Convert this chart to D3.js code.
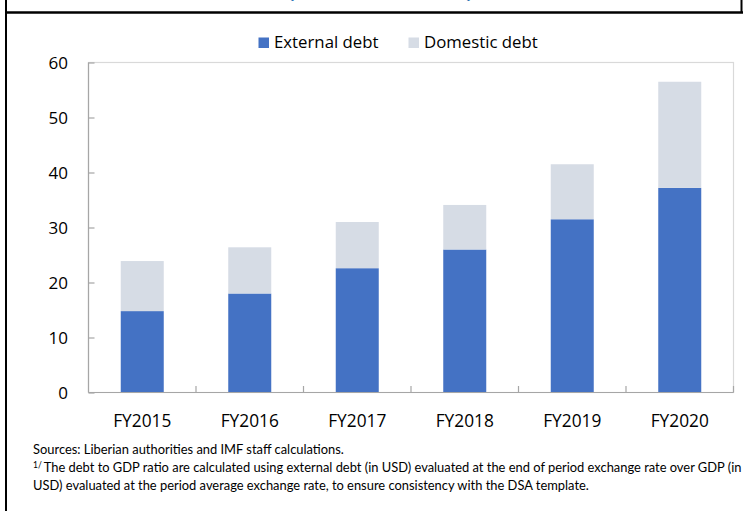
<!DOCTYPE html>
<html>
<head>
<meta charset="utf-8">
<script src="https://cdn.jsdelivr.net/npm/d3@7"></script>
<style>
  html, body { margin: 0; padding: 0; background: #fff; }
  svg { display: block; }
</style>
</head>
<body>
<svg id="chart" width="743" height="511"></svg>
<script>
// Liberia: public debt composition, percent of GDP
const years = ["FY2015", "FY2016", "FY2017", "FY2018", "FY2019", "FY2020"];
const externalDebt = [14.8, 18.0, 22.6, 26.0, 31.5, 37.2];
const domesticDebt = [9.1, 8.4, 8.4, 8.1, 10.0, 19.3];
const seriesNames = ["External debt", "Domestic debt"];
const seriesColors = ["#4472C4", "#D6DCE5"];
const yTicks = [0, 10, 20, 30, 40, 50, 60];
const titleText = "(Percent of GDP)";
const notes = [
  "Sources: Liberian authorities and IMF staff calculations.",
  "The debt to GDP ratio are calculated using external debt (in USD) evaluated at the end of period exchange rate over GDP (in",
  "USD) evaluated at the period average exchange  rate, to ensure consistency with the DSA template."
];

const svg = d3.select("#chart");
const W = 743, H = 511;
const plot = { left: 88.5, right: 733.5, top: 62.5, bottom: 392.5 };
const tickFont = "'Open Sans', 'Noto Sans', sans-serif";

// Panel frame
svg.append("line").attr("x1", 6).attr("x2", 6).attr("y1", 0).attr("y2", H)
  .attr("stroke", "#000").attr("stroke-width", 2);
svg.append("line").attr("x1", 5).attr("x2", W).attr("y1", 12.5).attr("y2", 12.5)
  .attr("stroke", "#000").attr("stroke-width", 2.5);
svg.append("line").attr("x1", 741.5).attr("x2", 741.5).attr("y1", 0).attr("y2", 13)
  .attr("stroke", "#000").attr("stroke-width", 2);

// Panel title, running off the top edge of the panel
svg.append("text")
  .attr("x", 380.5).attr("y", -1.8)
  .attr("text-anchor", "middle")
  .attr("textLength", 186).attr("lengthAdjust", "spacingAndGlyphs")
  .style("font-family", tickFont).style("font-size", "19px")
  .attr("fill", "#2E75B6")
  .text(titleText);

// Scales
const x = d3.scaleBand().domain(years).range([plot.left, plot.right]).paddingInner(0.6).paddingOuter(0.3);
const xBounds = d3.scaleBand().domain(years).range([plot.left, plot.right]);
const y = d3.scaleLinear().domain([0, 60]).range([plot.bottom, plot.top]);

// Stack the two series
const rows = years.map((yr, i) => ({ year: yr, [seriesNames[0]]: externalDebt[i], [seriesNames[1]]: domesticDebt[i] }));
const stacked = d3.stack().keys(seriesNames)(rows);

// Plot-area border (top and right)
svg.append("rect")
  .attr("x", plot.left).attr("y", plot.top)
  .attr("width", plot.right - plot.left).attr("height", plot.bottom - plot.top)
  .attr("fill", "none").attr("stroke", "#D9D9D9").attr("stroke-width", 1.2);

// Bars
svg.append("g").selectAll("g")
  .data(stacked)
  .join("g")
  .attr("fill", (d, i) => seriesColors[i])
  .selectAll("rect")
  .data(d => d)
  .join("rect")
  .attr("x", d => x(d.data.year))
  .attr("width", x.bandwidth())
  .attr("y", d => y(d[1]))
  .attr("height", d => y(d[0]) - y(d[1]));

// Y axis with inward ticks
const yAxis = svg.append("g")
  .attr("transform", `translate(${plot.left},0)`)
  .call(d3.axisRight(y).tickValues(yTicks).tickSize(6).tickFormat(""));
yAxis.select(".domain").attr("stroke", "#A6A6A6").attr("stroke-width", 1.2)
  .attr("d", `M0,${plot.bottom}V${plot.top}`);
yAxis.selectAll(".tick line").attr("stroke", "#A6A6A6").attr("stroke-width", 1.2);

svg.append("g").selectAll("text")
  .data(yTicks)
  .join("text")
  .attr("x", 68).attr("y", d => y(d))
  .attr("dy", "0.36em")
  .attr("text-anchor", "end")
  .style("font-family", tickFont).style("font-size", "17px")
  .attr("fill", "#000")
  .text(d => d);

// X axis: ticks between categories, pointing up
const boundaries = years.slice(1).map(yr => xBounds(yr)).concat([plot.right]);
const xAxis = svg.append("g");
xAxis.append("line")
  .attr("x1", plot.left).attr("x2", plot.right)
  .attr("y1", plot.bottom).attr("y2", plot.bottom)
  .attr("stroke", "#A6A6A6").attr("stroke-width", 1.2);
xAxis.selectAll(".bt")
  .data(boundaries)
  .join("line")
  .attr("class", "bt")
  .attr("x1", d => d).attr("x2", d => d)
  .attr("y1", plot.bottom).attr("y2", plot.bottom - 6.5)
  .attr("stroke", "#A6A6A6").attr("stroke-width", 1.2);

svg.append("g").selectAll("text")
  .data(years)
  .join("text")
  .attr("x", d => x(d) + x.bandwidth() / 2)
  .attr("y", 427)
  .attr("text-anchor", "middle")
  .style("font-family", tickFont).style("font-size", "17.3px")
  .attr("fill", "#000")
  .text(d => d);

// Legend
const legendItems = [
  { name: seriesNames[0], color: seriesColors[0], x: 258.5 },
  { name: seriesNames[1], color: seriesColors[1], x: 408.5 }
];
const lg = svg.append("g").selectAll("g").data(legendItems).join("g")
  .attr("transform", d => `translate(${d.x},37.5)`);
lg.append("rect").attr("width", 10.5).attr("height", 10.5).attr("fill", d => d.color);
lg.append("text")
  .attr("x", 15.5).attr("y", 10.8)
  .style("font-family", tickFont).style("font-size", "16.8px")
  .attr("fill", "#000")
  .text(d => d.name);

// Notes
const noteFont = "Lato, 'Liberation Sans', sans-serif";
const nt = svg.append("g").style("font-family", noteFont).style("font-size", "12.9px").attr("fill", "#000");
nt.append("text").attr("x", 33).attr("y", 454).text(notes[0]);
const n2 = nt.append("text").attr("x", 33).attr("y", 472);
n2.append("tspan").style("font-size", "8.5px").attr("dy", "-4").text("1/");
n2.append("tspan").attr("dy", "4").attr("dx", "2").text(notes[1]);
nt.append("text").attr("x", 33).attr("y", 490).text(notes[2]);
</script>
</body>
</html>
